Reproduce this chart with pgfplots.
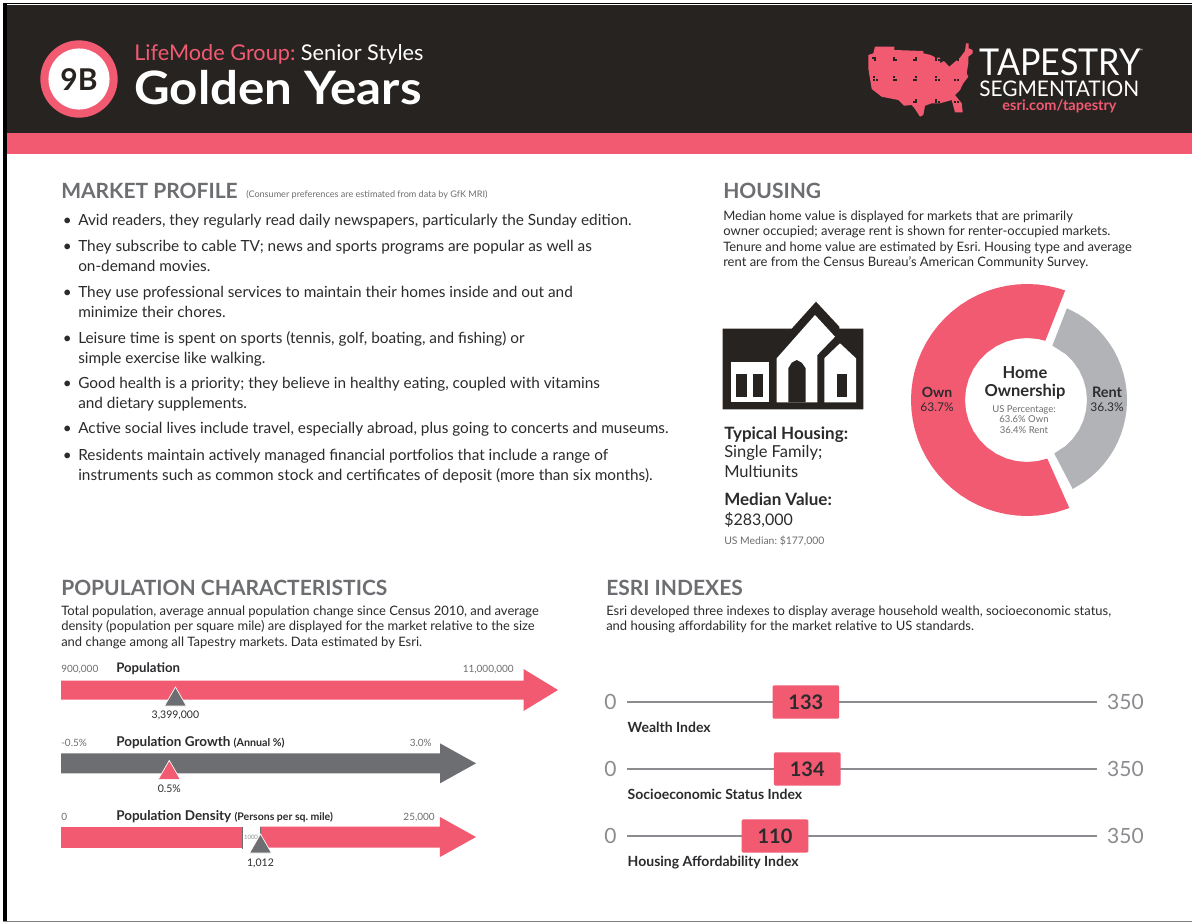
\documentclass[border=0pt]{standalone}
\usepackage{fontspec}
\setmainfont{Lato}
\usepackage{pgfplots}
\pgfplotsset{compat=1.18}

\definecolor{pink}{HTML}{F25A72}
\definecolor{band}{HTML}{272320}
\definecolor{slate}{HTML}{6D6E71}
\definecolor{ink}{HTML}{2B2B2D}
\definecolor{rentgray}{HTML}{B1B3B6}
\definecolor{soft}{HTML}{8A8C8F}

% everything is laid out in reference pixels, 1px = 0.75pt
\newcommand{\fpx}[1]{\pgfmathsetmacro\tmpfs{#1*0.75}\fontsize{\tmpfs pt}{\tmpfs pt}\selectfont}
\newcommand{\tx}[6][base west]{\node[anchor=#1,inner sep=0pt,text=#4] at (axis cs:#2,#3) {\fpx{#5}#6};}
\newcommand{\rect}[5]{\fill[#1] (axis cs:#2,#3) rectangle (axis cs:#4,#5);}

\pgfplotsset{
  page/.style={at={(0pt,0pt)},anchor=south west,scale only axis,width=894pt,height=691.5pt,
    xmin=0,xmax=1192,ymin=0,ymax=922,y dir=reverse,hide axis,clip=false},
  gauge/.style={scale only axis,hide axis,clip=false,height=31.5pt,ymin=-21,ymax=21,anchor=west},
}

\begin{document}
\frenchspacing
\begin{tikzpicture}
\begin{axis}[page]
  % frame and header
  \rect{white}{0}{0}{1192}{922}
  \rect{black}{3.3}{2.5}{1192}{4.2}
  \rect{black}{3.3}{2.5}{6.7}{921}
  \rect{gray}{3.3}{920.7}{1192}{922}
  \rect{band}{6.7}{5}{1192}{133}
  \rect{pink}{6.7}{133}{1192}{154}
  \fill[pink] (axis cs:79,79) circle [radius=29pt];
  \fill[white] (axis cs:79,79) circle [radius=22.9pt];
  \tx[base]{79}{90.5}{band}{30}{\bfseries 9B}
  \tx{134}{60}{pink}{21.7}{LifeMode Group: \textcolor{white}{Senior Styles}}
  \tx{134}{104}{white}{46}{\bfseries\scalebox{1.07}[1]{Golden Years}}

  % map of the US
  \fill[pink] (axis cs:875,46.7) -- (axis cs:894.3,46.7) -- (axis cs:894.3,50) -- (axis cs:923.3,51) -- (axis cs:923.3,53.3)
    -- (axis cs:930.7,55) -- (axis cs:936,57.7) -- (axis cs:940,57.7) -- (axis cs:940,63.3) -- (axis cs:944,61)
    -- (axis cs:949.3,66.7) -- (axis cs:955,61.7) -- (axis cs:960,57.7) -- (axis cs:965,51) -- (axis cs:966,43.3)
    -- (axis cs:968.7,43.3) -- (axis cs:968.7,48.3) -- (axis cs:972.7,50) -- (axis cs:972.7,53.3) -- (axis cs:968.3,56.7)
    -- (axis cs:968.3,63.3) -- (axis cs:966.7,73.3) -- (axis cs:968.3,76.7) -- (axis cs:963.3,83.3) -- (axis cs:960,90)
    -- (axis cs:955,95) -- (axis cs:961.7,103.3) -- (axis cs:962.7,112.3) -- (axis cs:955,112.3) -- (axis cs:951.7,100)
    -- (axis cs:940,103.3) -- (axis cs:931.7,103.3) -- (axis cs:925,105.7) -- (axis cs:923.3,115) -- (axis cs:920,116.7)
    -- (axis cs:915,109) -- (axis cs:911.7,105) -- (axis cs:904,105.7) -- (axis cs:898.3,100) -- (axis cs:881.7,96.7)
    -- (axis cs:871.7,89) -- (axis cs:868.3,68.3) -- (axis cs:868.3,55) -- (axis cs:873.3,53.3) -- cycle;
  \addplot[only marks,mark=square*,mark size=0.35pt,band] coordinates {
    (872.5,57.8)(875,57.8)(875,60)(893.5,57.5)(893.5,60)(896,60)(913.5,60)(916,57.5)(916,60)(936,57.5)(936,60)(938.5,60)(955,60)(957.5,57.5)(957.5,60)
    (874,77)(874,79.5)(876.5,79.5)(893.5,77)(893.5,79.5)(896,79.5)(913.5,79.5)(916,77)(916,79.5)(936,77)(936,79.5)(938.5,79.5)(955,79.5)(957.5,79.5)
    (913.5,102)(916,99.5)(916,102)(936,99.5)(936,102)(938.5,102)(955,102)(957.5,102)};
  \tx{979}{75}{white}{37}{\scalebox{0.92}[1]{TAPESTRY}}
  \tx{1138}{53}{white}{6}{™}
  \tx{979}{96}{white}{21.5}{\scalebox{0.97}[1]{SEGMENTATION}}
  \tx[base]{1059.5}{110}{pink}{14.5}{\bfseries esri.com/tapestry}

  % market profile
  \tx{61}{198}{slate}{21}{\bfseries MARKET PROFILE}
  \tx{246}{197}{slate}{9.1}{(Consumer preferences are estimated from data by GfK MRI)}
  \tx{62.5}{225}{ink}{15.35}{\textbullet}
  \tx{78}{225}{ink}{15.35}{Avid readers, they regularly read daily newspapers, particularly the Sunday edition.}
  \tx{62.5}{251}{ink}{15.35}{\textbullet}
  \tx{78}{251}{ink}{15.35}{They subscribe to cable TV; news and sports programs are popular as well as}
  \tx{78}{271}{ink}{15.35}{on-demand movies.}
  \tx{62.5}{297}{ink}{15.35}{\textbullet}
  \tx{78}{297}{ink}{15.35}{They use professional services to maintain their homes inside and out and}
  \tx{78}{317}{ink}{15.35}{minimize their chores.}
  \tx{62.5}{343}{ink}{15.35}{\textbullet}
  \tx{78}{343}{ink}{15.35}{Leisure time is spent on sports (tennis, golf, boating, and fishing) or}
  \tx{78}{363}{ink}{15.35}{simple exercise like walking.}
  \tx{62.5}{388}{ink}{15.35}{\textbullet}
  \tx{78}{388}{ink}{15.35}{Good health is a priority; they believe in healthy eating, coupled with vitamins}
  \tx{78}{408}{ink}{15.35}{and dietary supplements.}
  \tx{62.5}{433}{ink}{15.35}{\textbullet}
  \tx{78}{433}{ink}{15.35}{Active social lives include travel, especially abroad, plus going to concerts and museums.}
  \tx{62.5}{460}{ink}{15.35}{\textbullet}
  \tx{78}{460}{ink}{15.35}{Residents maintain actively managed financial portfolios that include a range of}
  \tx{78}{480}{ink}{15.35}{instruments such as common stock and certificates of deposit (more than six months).}

  % housing
  \tx{723}{198}{slate}{21}{\bfseries HOUSING}
  \tx{723}{220}{ink}{13}{Median home value is displayed for markets that are primarily}
  \tx{723}{235}{ink}{13}{owner occupied; average rent is shown for renter-occupied markets.}
  \tx{723}{251}{ink}{13}{Tenure and home value are estimated by Esri. Housing type and average}
  \tx{723}{266}{ink}{13}{rent are from the Census Bureau's American Community Survey.}
  \fill[band] (axis cs:722.7,328.7) -- (axis cs:791.7,328.7) -- (axis cs:816,301.7) -- (axis cs:839.3,326.7) -- (axis cs:839.3,328.7)
    -- (axis cs:863.3,328.7) -- (axis cs:863.3,409.3) -- (axis cs:722.7,409.3) -- cycle;
  \rect{white}{731}{361.7}{769.3}{402.3}
  \rect{band}{736}{374}{746.7}{397.3}
  \rect{band}{752.7}{374}{763.3}{397.3}
  \fill[white] (axis cs:776.7,358.3) -- (axis cs:815,315) -- (axis cs:835,336.7) -- (axis cs:817.3,355) -- (axis cs:817.3,402.3) -- (axis cs:776.7,402.3) -- cycle;
  \fill[band] (axis cs:788.3,402.3) -- (axis cs:788.3,368.3) -- (axis cs:791.7,362.7) -- (axis cs:796.7,360) -- (axis cs:801.7,362.7) -- (axis cs:805.7,368.3) -- (axis cs:805.7,402.3) -- cycle;
  \fill[white] (axis cs:824.3,358.3) -- (axis cs:840,343.3) -- (axis cs:856,358.3) -- (axis cs:856,402.3) -- (axis cs:824.3,402.3) -- cycle;
  \rect{band}{836.7}{374}{847.3}{397.3}
  \tx{724}{439}{ink}{17}{\bfseries Typical Housing:}
  \tx{724}{457}{ink}{16.5}{Single Family;}
  \tx{724}{477}{ink}{16.5}{Multiunits}
  \tx{724}{505}{ink}{17}{\bfseries Median Value:}
  \tx{724}{525}{ink}{16}{\$283,000}
  \tx{724}{544}{slate}{10.4}{US Median: \$177,000}

  % population characteristics
  \tx{61}{595}{slate}{21}{\bfseries POPULATION CHARACTERISTICS}
  \tx{61}{615}{ink}{13}{Total population, average annual population change since Census 2010, and average}
  \tx{61}{630}{ink}{13}{density (population per square mile) are displayed for the market relative to the size}
  \tx{61}{646}{ink}{13}{and change among all Tapestry markets. Data estimated by Esri.}
  \tx{61}{672}{slate}{10}{900,000}
  \tx{116}{672}{ink}{13.2}{\bfseries Population}
  \tx[base east]{514}{672}{slate}{10}{11,000,000}
  \tx{61}{746}{slate}{10}{-0.5\%}
  \tx{116}{746}{ink}{13.5}{\bfseries Population Growth \fpx{10.7}(Annual \%)}
  \tx[base east]{432}{746}{slate}{10}{3.0\%}
  \tx{61}{820}{slate}{10}{0}
  \tx{116}{820}{ink}{13.5}{\bfseries Population Density \fpx{10.5}(Persons per sq. mile)}
  \tx[base east]{435}{820}{slate}{10}{25,000}

  % esri indexes
  \tx{606}{595}{slate}{21}{\bfseries ESRI INDEXES}
  \tx{606}{615}{ink}{13}{Esri developed three indexes to display average household wealth, socioeconomic status,}
  \tx{606}{630}{ink}{13}{and housing affordability for the market relative to US standards.}
\end{axis}

% population: 900,000 to 11,000,000, then the arrow head
\begin{axis}[gauge,at={(45.75pt,174pt)},width=372.75pt,xmin=900000,xmax=11753000]
  \addplot[fill=pink,draw=none] coordinates {(900000,-9.5)(11000000,-9.5)(11000000,-21)(11753000,0)(11000000,21)(11000000,9.5)(900000,9.5)} --cycle;
  \addplot[only marks,mark=triangle*,mark size=9.5pt,mark options={fill=slate,draw=white,line width=0.5pt}] coordinates {(3399000,-9.7)};
  \node[anchor=base,inner sep=0pt,text=ink] at (axis cs:3399000,-29) {\fpx{10.5}3,399,000};
\end{axis}

% growth: -0.5% to 3.0%
\begin{axis}[gauge,at={(45.75pt,119pt)},width=311.25pt,xmin=-0.5,xmax=3.3325]
  \addplot[fill=slate,draw=none] coordinates {(-0.5,-10)(3,-10)(3,-20)(3.3325,0)(3,20)(3,10)(-0.5,10)} --cycle;
  \addplot[only marks,mark=triangle*,mark size=9.5pt,mark options={fill=pink,draw=white,line width=0.5pt}] coordinates {(0.5,-9.7)};
  \node[anchor=base,inner sep=0pt,text=ink] at (axis cs:0.5,-29) {\fpx{10.5}0.5\%};
\end{axis}

% density has a broken scale: 0 to 1000, a gap, then 1000 to 25,000
\begin{axis}[gauge,at={(45.75pt,63.75pt)},width=135.75pt,xmin=0,xmax=1000]
  \addplot[fill=pink,draw=none] coordinates {(0,-10.5)(1000,-10.5)(1000,10.5)(0,10.5)} --cycle;
  \addplot[slate,line width=0.75pt] coordinates {(1000,-12)(1000,10.5)};
\end{axis}
\begin{axis}[gauge,at={(195.3pt,63.75pt)},width=161.7pt,xmin=1000,xmax=29811]
  \addplot[fill=pink,draw=none] coordinates {(1000,-10.5)(25000,-10.5)(25000,-20)(29811,0)(25000,20)(25000,10.5)(1000,10.5)} --cycle;
  \addplot[slate,line width=0.75pt] coordinates {(1000,-2)(1000,10.5)};
  \addplot[only marks,mark=triangle*,mark size=9.5pt,mark options={fill=slate,draw=white,line width=0.5pt}] coordinates {(1012,-9.7)};
  \node[anchor=base,inner sep=0pt,text=ink] at (axis cs:1012,-29) {\fpx{10.5}1,012};
  \node[anchor=center,inner sep=0pt,text=soft] at (axis cs:-256,0) {\fpx{6}1000};
\end{axis}

% index sliders, 0 to 350
\begin{axis}[scale only axis,hide axis,clip=false,at={(470.6pt,215.25pt)},anchor=north west,width=352.1pt,height=201pt,
    xmin=0,xmax=350,ymin=0,ymax=4,y dir=reverse]
  \addplot[soft,line width=1pt] coordinates {(0,1)(350,1)};
  \addplot[soft,line width=1pt] coordinates {(0,2)(350,2)};
  \addplot[soft,line width=1pt] coordinates {(0,3)(350,3)};
  \addplot[only marks,mark=none,point meta=explicit symbolic,nodes near coords,
    every node near coord/.append style={anchor=center,fill=pink,rounded corners=1pt,text=ink,font=\fpx{20}\bfseries,
      minimum width=50pt,minimum height=25pt,inner sep=0pt}]
    coordinates {(133,1)[133] (134,2)[134] (110,3)[110]};
  \node[anchor=east,inner sep=0pt,text=soft,xshift=-8pt] at (axis cs:0,1) {\fpx{21}0};
  \node[anchor=east,inner sep=0pt,text=soft,xshift=-8pt] at (axis cs:0,2) {\fpx{21}0};
  \node[anchor=east,inner sep=0pt,text=soft,xshift=-8pt] at (axis cs:0,3) {\fpx{21}0};
  \node[anchor=west,inner sep=0pt,text=soft,xshift=7.5pt] at (axis cs:350,1) {\fpx{21}350};
  \node[anchor=west,inner sep=0pt,text=soft,xshift=7.5pt] at (axis cs:350,2) {\fpx{21}350};
  \node[anchor=west,inner sep=0pt,text=soft,xshift=7.5pt] at (axis cs:350,3) {\fpx{21}350};
  \node[anchor=base west,inner sep=0pt,text=ink] at (axis cs:0,1.46) {\fpx{14}\bfseries Wealth Index};
  \node[anchor=base west,inner sep=0pt,text=ink] at (axis cs:0,2.46) {\fpx{14}\bfseries Socioeconomic Status Index};
  \node[anchor=base west,inner sep=0pt,text=ink] at (axis cs:0,3.46) {\fpx{14}\bfseries Housing Affordability Index};
\end{axis}

% home ownership: polar (angle, radius) outlines of the two slices
\begin{axis}[scale only axis,hide axis,clip=false,at={(770.25pt,391.5pt)},anchor=center,width=174pt,height=174pt,
    xmin=-116,xmax=116,ymin=-116,ymax=116]
  \addplot[fill=pink,draw=none,data cs=polar] coordinates {
    (70.8,116)(75,116)(80,116)(85,116)(90,116)(95,116)(100,116)(105,116)(110,116)(115,116)(120,116)(125,116)(130,116)
    (135,116)(140,116)(145,116)(150,116)(155,116)(160,116)(165,116)(170,116)(175,116)(180,116)(185,116)(190,116)
    (195,116)(200,116)(205,116)(210,116)(215,116)(220,116)(225,116)(230,116)(235,116)(240,116)(245,116)(250,116)
    (255,116)(260,116)(265,116)(270,116)(275,116)(280,116)(285,116)(291.4,116)
    (289.1,62)(280,62)(270,62)(260,62)(250,62)(240,62)(230,62)(220,62)(210,62)(200,62)(190,62)(180,62)(170,62)
    (160,62)(150,62)(140,62)(130,62)(120,62)(110,62)(100,62)(90,62)(80,62)(72.8,62)} --cycle;
  \addplot[fill=rentgray,draw=none,data cs=polar] coordinates {
    (66.5,100)(60,100)(55,100)(50,100)(45,100)(40,100)(35,100)(30,100)(25,100)(20,100)(15,100)(10,100)(5,100)(0,100)
    (-5,100)(-10,100)(-15,100)(-20,100)(-25,100)(-30,100)(-35,100)(-40,100)(-45,100)(-50,100)(-55,100)(-62.8,100)
    (-63,60)(-50,60)(-40,60)(-30,60)(-20,60)(-10,60)(0,60)(10,60)(20,60)(30,60)(40,60)(50,60)(65,60)} --cycle;
\end{axis}

\begin{axis}[page]
  \tx[base]{1025}{378}{ink}{16.5}{\bfseries Home}
  \tx[base]{1025}{396}{ink}{16.5}{\bfseries Ownership}
  \tx[base]{1024}{412}{slate}{9.5}{US Percentage:}
  \tx[base]{1024}{422}{slate}{9.5}{63.6\% Own}
  \tx[base]{1024}{433}{slate}{9.5}{36.4\% Rent}
  \tx[base]{937}{397}{ink}{14}{\bfseries Own}
  \tx[base]{937}{411}{ink}{12}{63.7\%}
  \tx[base]{1107}{397}{ink}{14.5}{\bfseries Rent}
  \tx[base]{1107}{411}{ink}{12}{36.3\%}
\end{axis}
\end{tikzpicture}
\end{document}
